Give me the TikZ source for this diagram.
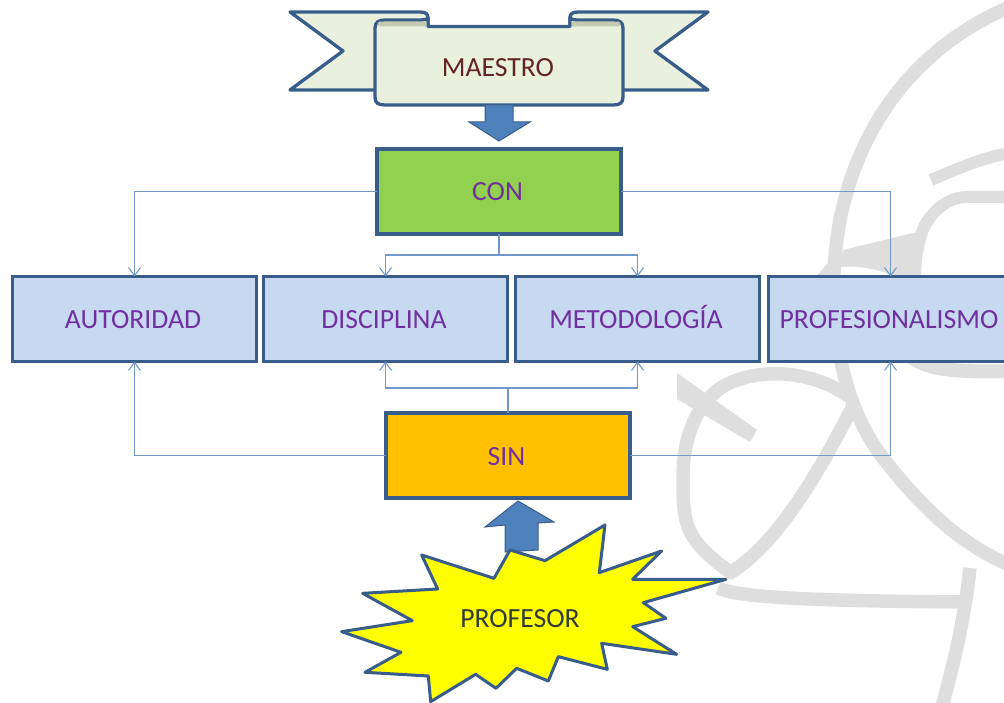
\documentclass[tikz,border=0pt]{standalone}
\usepackage{fontspec}
\setmainfont{Carlito}
\usetikzlibrary{arrows.meta,calc}
\definecolor{edgeblue}{HTML}{385D8A}
\definecolor{linkblue}{HTML}{7098CA}
\definecolor{arrowblue}{HTML}{4F81BD}
\definecolor{pale}{HTML}{EAF0DE}
\definecolor{fold}{HTML}{C4C9B2}
\definecolor{boxblue}{HTML}{C6D9F1}
\definecolor{boxgreen}{HTML}{92D050}
\definecolor{boxorange}{HTML}{FFC000}
\definecolor{burstyellow}{HTML}{FFFF00}
\definecolor{purpletext}{HTML}{7030A0}
\definecolor{redtext}{HTML}{632523}
\definecolor{darktext}{HTML}{303A3A}
\definecolor{markgray}{HTML}{DEDEDE}
\tikzset{
  x=1pt,y=-1pt,
  labeltext/.style={font=\fontsize{27.7}{30}\selectfont,text height=19pt,text depth=0pt},
  box/.style={draw=edgeblue,line width=3.2pt,minimum width=244pt,minimum height=85pt,inner sep=0pt,outer sep=0pt,labeltext,text=purpletext,execute at begin node={\kern-3pt}},
  item/.style={box,fill=boxblue},
  link/.style={draw=linkblue,line width=1.1pt,-{Straight Barb[length=8pt,width=12pt]}},
  linkplain/.style={draw=linkblue,line width=1.1pt},
  blockarrow/.style={fill=arrowblue,draw=edgeblue,line width=1pt,line join=miter},
  ribbon/.style={fill=pale,draw=edgeblue,line width=3.3pt,line join=round},
  sketch/.style={draw=markgray,line width=13.5pt,line cap=butt,line join=round},
}
\begin{document}
\begin{tikzpicture}
\useasboundingbox (0,0) rectangle (1004,703);
% watermark
\draw[sketch] (1012,6) .. controls (930,40) and (862,110) .. (840,220) .. controls (825,300) and (835,400) .. (887,463) .. controls (920,505) and (960,545) .. (1012,566);
\draw[sketch,line width=12pt] (931,180) .. controls (955,170) and (980,158) .. (1010,153);
\draw[sketch,line width=12pt] (1010,197) -- (967,197) .. controls (950,197) and (935,208) .. (925,225) .. controls (918,240) and (915,260) .. (915,280);
\draw[sketch,line width=14pt] (905,350) .. controls (918,368) and (945,373) .. (1010,371);
\fill[markgray] (843,250) -- (917,232) -- (917,280) -- (900,280) .. controls (885,270) and (860,265) .. (840,267) -- cycle;
\fill[markgray] (813,280) -- (828,263) -- (842,263) -- (832,280) -- cycle;
\draw[sketch] (848,396) .. controls (815,372) and (760,365) .. (722,387) .. controls (695,405) and (683,440) .. (683,477) .. controls (683,500) and (683,520) .. (692,535) .. controls (700,550) and (720,565) .. (733,574);
\draw[sketch] (728,574) .. controls (770,550) and (810,490) .. (852,408);
\fill[markgray] (677,373) -- (757,430) -- (750,442) -- (677,399) -- cycle;
\draw[sketch] (718,588) .. controls (735,596) and (790,601) .. (970,602);
\draw[sketch] (970,568) .. controls (965,615) and (955,660) .. (941,710);
% ribbon
\path[ribbon] (290,12) -- (420,12) .. controls (426,12) and (428,14) .. (428,18) -- (428,30) -- (400,90) -- (290,90) -- (343,51) -- cycle;
\path[ribbon] (708,12) -- (578,12) .. controls (572,12) and (570,14) .. (570,18) -- (570,30) -- (600,90) -- (708,90) -- (655,51) -- cycle;
\draw[ribbon] (375,97) -- (375,28) .. controls (375,22) and (379,20) .. (385,20) -- (420,20) .. controls (425,20) and (428,19) .. (428,17) -- (428,26.5) -- (570,26.5) -- (570,17) .. controls (570,19) and (573,20) .. (578,20) -- (613,20) .. controls (619,20) and (623,22) .. (623,28) -- (623,97) .. controls (623,103) and (620,105) .. (613,105) -- (385,105) .. controls (378,105) and (375,103) .. (375,97) -- cycle;
\fill[fold] (379,21.6) -- (426.3,21.6) -- (426.3,26.5) -- (379,26.5) .. controls (377,25) and (377,23) .. (379,21.6) -- cycle;
\fill[fold] (619,21.6) -- (571.7,21.6) -- (571.7,26.5) -- (619,26.5) .. controls (621,25) and (621,23) .. (619,21.6) -- cycle;
\node[labeltext,text=redtext,inner sep=0pt] (maestro) at (498,67) {MAESTRO};
% boxes
\node[box,fill=boxgreen] (con) at (499,191.5) {CON};
\node[item] (aut) at (134.5,319) {AUTORIDAD};
\node[item] (dis) at (385.5,319) {DISCIPLINA};
\node[item] (met) at (637.5,319) {METODOLOGÍA};
\node[item] (pro) at (890.5,319) {PROFESIONALISMO};
\node[box,fill=boxorange] (sin) at (508,455.5) {SIN};
% connectors
\coordinate (conjoin) at (con.south |- 0,255);
\coordinate (sinjoin) at (sin.north |- 0,388);
\draw[link] (con.west) -| (aut.north);
\draw[link] (con.east) -| (pro.north);
\draw[linkplain] (con.south) -- (conjoin);
\draw[link] (conjoin) -| (dis.north);
\draw[link] (conjoin) -| (met.north);
\draw[link] (sin.west) -| (aut.south);
\draw[link] (sin.east) -| (pro.south);
\draw[linkplain] (sin.north) -- (sinjoin);
\draw[link] (sinjoin) -| (dis.south);
\draw[link] (sinjoin) -| (met.south);
% block arrows
\path[blockarrow] (485,105) -- (513,105) -- (513,122) -- (530,122) -- (499,141) -- (469,122) -- (485,122) -- cycle;
\path[blockarrow] (518,501) -- (554,522) -- (538,523) -- (538,550) -- (505,552) -- (505,525) -- (485,527) -- cycle;
% burst
\begin{scope}[shift={(330,490)},x=0.3333pt,y=-0.3333pt]
\path[fill=burstyellow,draw=edgeblue,line width=3pt,line join=round] (540,180) -- (645,212) -- (825,105) -- (808,248) -- (995,183) -- (908,268) -- (1188,268) -- (940,338) -- (1008,385) -- (908,410) -- (1040,493) -- (815,460) -- (832,538) -- (685,500) -- (655,573) -- (560,535) -- (498,595) -- (437,553) -- (302,635) -- (295,558) -- (105,547) -- (213,487) -- (35,425) -- (247,392) -- (98,310) -- (323,297) -- (275,195) -- (492,265) -- cycle;
\end{scope}
\node[labeltext,text=darktext,inner sep=0pt] (profesor) at (520,618) {PROFESOR};
\end{tikzpicture}
\end{document}
